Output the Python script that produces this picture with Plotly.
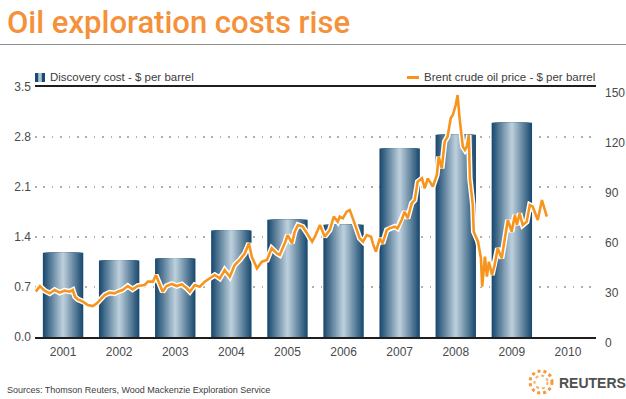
import plotly.graph_objects as go

# ---------------- data ----------------
years = ["2001", "2002", "2003", "2004", "2005", "2006", "2007", "2008", "2009", "2010"]
discovery_cost = [1.18, 1.07, 1.10, 1.49, 1.64, 1.57, 2.64, 2.83, 3.00, None]

left_ticks = [0.0, 0.7, 1.4, 2.1, 2.8, 3.5]
left_tick_labels = ["0.0", "0.7", "1.4", "2.1", "2.8", "3.5"]
right_ticks = [0, 30, 60, 90, 120, 150]
right_tick_labels = ["0", "30", "60", "90", "120", "150"]

brent_dates = [
    "2001-01-06", "2001-02-02", "2001-03-05", "2001-04-07", "2001-05-09", "2001-06-11",
    "2001-07-13", "2001-08-16", "2001-09-04", "2001-09-18", "2001-10-07", "2001-11-09",
    "2001-12-10",
    "2002-01-12", "2002-02-08", "2002-02-28", "2002-03-30", "2002-05-02", "2002-06-04",
    "2002-06-24", "2002-07-25", "2002-08-28", "2002-09-28", "2002-11-01", "2002-12-16",
    "2003-01-06", "2003-02-08", "2003-02-27", "2003-03-22", "2003-04-12", "2003-05-07",
    "2003-06-10", "2003-07-13", "2003-08-14", "2003-09-16", "2003-10-06", "2003-11-07",
    "2003-12-10",
    "2004-01-11", "2004-02-13", "2004-03-16", "2004-04-18", "2004-05-20", "2004-06-22",
    "2004-07-24", "2004-08-26", "2004-09-28", "2004-10-25", "2004-11-12", "2004-12-16",
    "2005-01-17", "2005-02-19", "2005-03-22", "2005-04-24", "2005-05-13", "2005-06-15",
    "2005-07-04", "2005-08-01", "2005-08-19", "2005-09-09", "2005-10-10", "2005-11-07",
    "2005-12-10", "2005-12-28",
    "2006-01-30", "2006-03-02", "2006-04-04", "2006-04-30", "2006-05-26", "2006-06-08",
    "2006-06-28", "2006-07-23", "2006-08-12", "2006-09-01", "2006-09-28", "2006-10-16",
    "2006-11-06", "2006-12-01", "2006-12-29",
    "2007-01-09", "2007-01-29", "2007-02-24", "2007-03-14", "2007-04-10", "2007-04-28",
    "2007-06-01", "2007-06-19", "2007-07-16", "2007-08-04", "2007-08-24", "2007-09-19",
    "2007-10-09", "2007-10-28", "2007-11-25", "2007-12-13",
    "2008-01-02", "2008-02-04", "2008-03-01", "2008-03-13", "2008-04-02", "2008-04-21",
    "2008-05-10", "2008-05-30", "2008-06-13", "2008-07-02", "2008-07-14", "2008-07-27",
    "2008-08-17", "2008-08-31", "2008-09-12", "2008-09-25", "2008-10-02", "2008-10-21",
    "2008-10-27", "2008-11-24", "2008-12-13", "2008-12-21",
    "2009-01-08", "2009-01-21", "2009-02-03", "2009-02-23", "2009-03-12", "2009-04-01",
    "2009-04-27", "2009-05-16", "2009-06-06", "2009-07-01", "2009-07-22", "2009-08-04",
    "2009-08-22", "2009-09-11", "2009-10-07", "2009-10-27", "2009-11-15", "2009-12-18",
    "2010-01-14", "2010-02-15",
]
brent_price = [
    27.2, 30.5, 27.8, 26.2, 28.2, 26.6,
    27.8, 27.2, 28.2, 24.2, 22.6, 21.2,
    19.2,
    18.6, 20.2, 22.2, 25.2, 26.6, 26.2,
    27.2, 28.2, 30.6, 28.6, 30.6, 31.2,
    33.2, 33.2, 37.2, 32.2, 27.2, 30.6,
    31.8, 30.6, 31.6, 29.2, 27.2, 31.2,
    30.2,
    33.2, 35.2, 37.2, 35.2, 40.2, 36.2,
    43.2, 46.2, 50.2, 56.2, 48.2, 41.2,
    45.2, 46.2, 53.2, 50.2, 49.2, 56.2,
    61.2, 56.2, 63.2, 67.2, 66.2, 62.2,
    57.2, 60.2,
    67.2, 60.2, 64.2, 72.2, 69.2, 72.2,
    71.2, 75.2, 76.2, 71.2, 63.2, 59.2,
    57.2, 61.2, 60.2,
    56.2, 51.2, 59.2, 56.2, 64.2, 65.2,
    66.2, 65.2, 70.2, 75.2, 71.2, 80.2,
    82.2, 93.2, 95.2, 89.2,
    95.2, 90.2, 97.2, 108.2, 101.2, 117.2,
    120.2, 131.2, 133.2, 139.2, 145.2, 131.2,
    114.2, 112.2, 114.2, 121.2, 95.2, 79.2,
    63.2, 57.2, 47.2, 30.2,
    48.2, 36.2, 45.2, 37.2, 43.2, 53.2,
    47.2, 58.2, 70.2, 63.2, 73.2, 67.2,
    74.2, 67.2, 69.2, 79.2, 78.2, 70.2,
    82.2, 72.2,
]

# ---------------- layout geometry ----------------
W, H = 626, 399
ML, MR, MT, MB = 35, 30, 87, 62
PW, PH = W - ML - MR, H - MT - MB


def xp(px):
    return (px - ML) / PW


def yp(py):
    return (H - MB - py) / PH


ORANGE = "#F7941E"
TEXT = "#3c3c3c"
DARK = (27, 75, 112)
LIGHT = (186, 205, 218)

fig = go.Figure()

# gradient bars: overlaid bar layers, narrower = lighter
N = 16
full_w = 0.72
for k in range(N):
    t = k / (N - 1)
    c = tuple(int(round(DARK[i] + (LIGHT[i] - DARK[i]) * t)) for i in range(3))
    fig.add_trace(go.Bar(
        x=years, y=discovery_cost,
        width=full_w * (1 - k / N),
        marker=dict(color="rgb(%d,%d,%d)" % c, line=dict(width=0)),
        xaxis="x", yaxis="y", showlegend=False, hoverinfo="skip",
    ))

# oil price line with white halo
fig.add_trace(go.Scatter(
    x=brent_dates, y=brent_price, mode="lines",
    line=dict(color="white", width=5.5), xaxis="x2", yaxis="y2",
    showlegend=False, hoverinfo="skip",
))
fig.add_trace(go.Scatter(
    x=brent_dates, y=brent_price, mode="lines",
    line=dict(color=ORANGE, width=2.6), xaxis="x2", yaxis="y2",
    showlegend=False,
))

shapes = [
    # rule under title
    dict(type="line", xref="paper", yref="paper", x0=xp(0), x1=xp(W), y0=yp(44.5), y1=yp(44.5),
         line=dict(color="#8f8f8f", width=1)),
    # legend icon: bars
    dict(type="rect", xref="paper", yref="paper", x0=xp(35), x1=xp(45), y0=yp(82), y1=yp(73),
         fillcolor="rgb(27,75,112)", line=dict(width=0)),
    dict(type="rect", xref="paper", yref="paper", x0=xp(38), x1=xp(42), y0=yp(82), y1=yp(73),
         fillcolor="rgb(140,170,190)", line=dict(width=0)),
    dict(type="rect", xref="paper", yref="paper", x0=xp(39.3), x1=xp(40.7), y0=yp(82), y1=yp(73),
         fillcolor="rgb(190,208,220)", line=dict(width=0)),
    # legend icon: line
    dict(type="line", xref="paper", yref="paper", x0=xp(407), x1=xp(419), y0=yp(77.5), y1=yp(77.5),
         line=dict(color=ORANGE, width=3)),
    # Reuters logo (dotted rings)
    dict(type="circle", xref="paper", yref="paper", x0=xp(530), x1=xp(552), y0=yp(393), y1=yp(371),
         line=dict(color="#F39A3E", width=3, dash="dot"), fillcolor="rgba(0,0,0,0)"),
    dict(type="circle", xref="paper", yref="paper", x0=xp(534.5), x1=xp(547.5), y0=yp(388.5), y1=yp(375.5),
         line=dict(color="#F6B06A", width=2, dash="dot"), fillcolor="rgba(0,0,0,0)"),
]

annotations = [
    dict(text="Oil exploration costs rise", xref="paper", yref="paper",
         x=xp(5), y=yp(22), xanchor="left", yanchor="middle", showarrow=False,
         font=dict(family="Roboto", size=31, color="#F4913A", weight=500)),
    dict(text="Discovery cost - $ per barrel", xref="paper", yref="paper",
         x=xp(48), y=yp(77.5), xanchor="left", yanchor="middle", showarrow=False,
         font=dict(family="Liberation Sans, Arial", size=11.5, color=TEXT)),
    dict(text="Brent crude oil price - $ per barrel", xref="paper", yref="paper",
         x=xp(422), y=yp(77.5), xanchor="left", yanchor="middle", showarrow=False,
         font=dict(family="Liberation Sans, Arial", size=11.5, color=TEXT)),
    dict(text="Sources: Thomson Reuters, Wood Mackenzie Exploration Service", xref="paper", yref="paper",
         x=xp(5), y=yp(390), xanchor="left", yanchor="middle", showarrow=False,
         font=dict(family="Liberation Sans, Arial", size=9, color=TEXT)),
    dict(text="<b>REUTERS</b>", xref="paper", yref="paper",
         x=xp(557), y=yp(382.5), xanchor="left", yanchor="middle", showarrow=False,
         font=dict(family="Liberation Sans, Arial", size=14, color="#505050")),
]

fig.update_layout(
    template="none",
    width=W, height=H,
    margin=dict(l=ML, r=MR, t=MT, b=MB, pad=0, autoexpand=False),
    paper_bgcolor="white", plot_bgcolor="white",
    barmode="overlay", showlegend=False,
    font=dict(family="Liberation Sans, Arial", size=12, color=TEXT),
    xaxis=dict(
        type="category", categoryorder="array", categoryarray=years,
        range=[-0.5, len(years) - 0.5], automargin=False,
        showgrid=False, zeroline=False, ticks="",
        showline=True, mirror=True, linecolor="#1e1e1e", linewidth=2,
        tickfont=dict(size=12, color="#4a4a4a"), ticklabelstandoff=3,
    ),
    yaxis=dict(
        range=[0, 3.5], tickvals=left_ticks, ticktext=left_tick_labels, automargin=False,
        showgrid=True, gridcolor="#b0b0b0", gridwidth=1.6, griddash="1.6px,6.8px",
        zeroline=False, ticks="", showline=False,
        tickfont=dict(size=12, color="#4a4a4a"), ticklabelstandoff=3,
    ),
    xaxis2=dict(
        type="date", overlaying="x", range=["2001-01-01", "2011-01-01"], automargin=False,
        visible=False, showgrid=False, zeroline=False,
    ),
    yaxis2=dict(
        overlaying="y", side="right", range=[0, 150], automargin=False,
        tickvals=right_ticks, ticktext=right_tick_labels,
        showgrid=False, zeroline=False, ticks="", showline=False,
        tickfont=dict(size=12, color="#4a4a4a"), ticklabelstandoff=8, ticklabelshift=6,
    ),
    shapes=shapes,
    annotations=annotations,
)

fig.write_html(
    "out.html",
    config={"displayModeBar": False},
    post_script="document.body.style.margin='0';document.body.style.overflow='hidden';",
)
